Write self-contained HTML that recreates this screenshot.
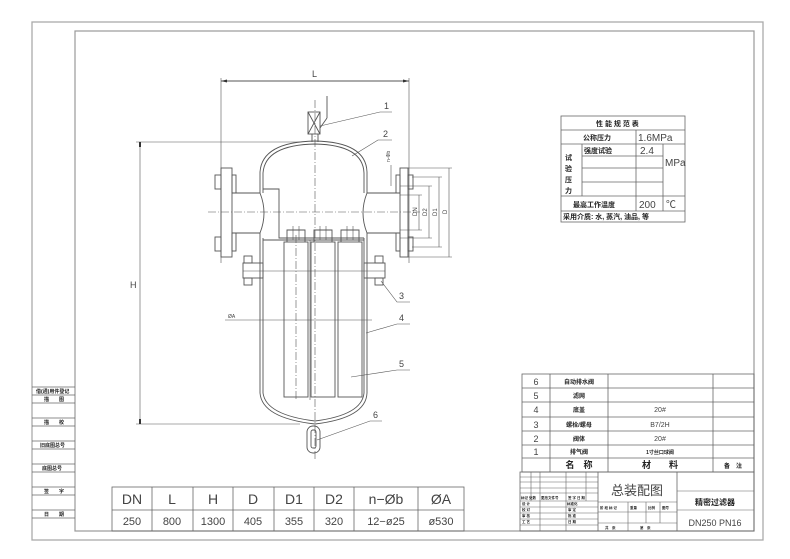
<!DOCTYPE html>
<html><head><meta charset="utf-8"><style>
html,body{margin:0;padding:0;background:#fff;}
svg{display:block;}
text{font-family:"Liberation Sans","Noto Sans CJK SC",sans-serif;fill:#444;}
.c{font-family:"Liberation Sans","Noto Sans CJK SC",sans-serif;font-weight:bold;fill:#222;}
</style></head><body>
<svg width="790" height="559" viewBox="0 0 790 559" xmlns="http://www.w3.org/2000/svg">
<g fill="none" stroke="#666" stroke-width="0.8">
<!-- borders -->
<rect x="32" y="22" width="731" height="518" stroke="#aaa" stroke-width="1.3"/>
<rect x="75" y="31" width="679" height="500" stroke="#999" stroke-width="1.2"/>
<!-- left strip -->
<line x1="32" y1="387" x2="75" y2="387"/>
<line x1="32" y1="395" x2="75" y2="395"/>
<line x1="32" y1="403" x2="75" y2="403"/>
<line x1="32" y1="418" x2="75" y2="418"/>
<line x1="32" y1="426" x2="75" y2="426"/>
<line x1="32" y1="441" x2="75" y2="441"/>
<line x1="32" y1="449" x2="75" y2="449"/>
<line x1="32" y1="464" x2="75" y2="464"/>
<line x1="32" y1="472" x2="75" y2="472"/>
<line x1="32" y1="487" x2="75" y2="487"/>
<line x1="32" y1="495" x2="75" y2="495"/>
<line x1="32" y1="510" x2="75" y2="510"/>
<line x1="32" y1="518" x2="75" y2="518"/>

<!-- dimension table -->
<rect x="112" y="487" width="352" height="44"/>
<line x1="112" y1="510" x2="464" y2="510"/>
<line x1="152" y1="487" x2="152" y2="531"/><line x1="193" y1="487" x2="193" y2="531"/>
<line x1="233" y1="487" x2="233" y2="531"/><line x1="274" y1="487" x2="274" y2="531"/>
<line x1="314" y1="487" x2="314" y2="531"/><line x1="354" y1="487" x2="354" y2="531"/>
<line x1="418" y1="487" x2="418" y2="531"/>

<!-- performance table -->
<rect x="561" y="116" width="124" height="106"/>
<line x1="561" y1="130" x2="685" y2="130"/>
<line x1="561" y1="144" x2="685" y2="144"/>
<line x1="582" y1="156" x2="663" y2="156"/>
<line x1="582" y1="168" x2="663" y2="168"/>
<line x1="582" y1="182" x2="663" y2="182"/>
<line x1="561" y1="196" x2="685" y2="196"/>
<line x1="561" y1="211" x2="685" y2="211"/>
<line x1="582" y1="144" x2="582" y2="196"/>
<line x1="636" y1="130" x2="636" y2="211"/>
<line x1="663" y1="144" x2="663" y2="211"/>

<!-- parts table -->
<rect x="522" y="374" width="232" height="98"/>
<line x1="522" y1="388" x2="754" y2="388"/><line x1="522" y1="402" x2="754" y2="402"/>
<line x1="522" y1="417" x2="754" y2="417"/><line x1="522" y1="431" x2="754" y2="431"/>
<line x1="522" y1="445" x2="754" y2="445"/><line x1="522" y1="458" x2="754" y2="458"/>
<line x1="550" y1="374" x2="550" y2="472"/><line x1="608" y1="374" x2="608" y2="472"/>
<line x1="713" y1="374" x2="713" y2="472"/>
<!-- title block -->
<rect x="520" y="472" width="234" height="59"/>
<line x1="598" y1="472" x2="598" y2="531"/><line x1="677" y1="472" x2="677" y2="531"/>
<g stroke-width="0.6">
<line x1="520" y1="477" x2="598" y2="477"/><line x1="520" y1="482" x2="598" y2="482"/>
<line x1="520" y1="488" x2="598" y2="488"/><line x1="520" y1="493" x2="598" y2="493"/>
<line x1="520" y1="501" x2="598" y2="501"/><line x1="520" y1="507" x2="598" y2="507"/>
<line x1="520" y1="513" x2="598" y2="513"/><line x1="520" y1="519" x2="598" y2="519"/>
<line x1="520" y1="525" x2="598" y2="525"/>
<line x1="531" y1="472" x2="531" y2="501"/><line x1="540" y1="472" x2="540" y2="531"/>
<line x1="566" y1="472" x2="566" y2="531"/><line x1="586" y1="472" x2="586" y2="501"/>
<line x1="598" y1="502" x2="677" y2="502"/><line x1="598" y1="512" x2="677" y2="512"/>
<line x1="598" y1="523" x2="677" y2="523"/>
<line x1="628" y1="502" x2="628" y2="531"/><line x1="646" y1="502" x2="646" y2="523"/>
<line x1="660" y1="502" x2="660" y2="523"/>
<line x1="677" y1="491" x2="754" y2="491"/><line x1="677" y1="510" x2="754" y2="510"/>
</g>
</g>

<!-- DRAWING -->
<g fill="none" stroke="#555" stroke-width="0.9">
<line x1="221" y1="81" x2="409" y2="81"/>
<line x1="221" y1="78" x2="221" y2="263" stroke-width="0.6"/>
<line x1="409" y1="78" x2="409" y2="263" stroke-width="0.6"/>
<line x1="315" y1="100" x2="315" y2="460" stroke-dasharray="8,2,1,2" stroke-width="0.6"/>
<line x1="208" y1="212" x2="420" y2="212" stroke-dasharray="8,2,1,2" stroke-width="0.6"/>
<line x1="296" y1="235" x2="296" y2="400" stroke-dasharray="8,2,1,2" stroke-width="0.6"/>
<rect x="308" y="112" width="12" height="22"/>
<line x1="308" y1="112" x2="320" y2="134"/><line x1="320" y1="112" x2="308" y2="134"/>
<line x1="312" y1="134" x2="312" y2="142"/><line x1="318" y1="134" x2="318" y2="142"/>
<line x1="327" y1="96" x2="327" y2="118"/><line x1="327" y1="118" x2="320" y2="128"/>
<path d="M260,193 L260,172 Q262,142 315,141 Q366,142 367,172 L367,193"/>
<path d="M263,193 L263,173 Q265,145 315,144 Q363,145 364,173 L364,193"/>
<path d="M232,193 L260,193 M232,233 L260,233 M367,193 L400,193 M367,233 L400,233"/>
<path d="M260,193 Q268,213 260,233 M367,193 Q359,213 367,233"/>
<rect x="221" y="168" width="11" height="89"/>
<rect x="400" y="168" width="8" height="89"/>
<rect x="232" y="175" width="4" height="18"/><rect x="232" y="233" width="4" height="18"/>
<rect x="396" y="175" width="4" height="18"/><rect x="396" y="233" width="4" height="18"/>
<rect x="215" y="175" width="6" height="14"/><rect x="215" y="237" width="6" height="14"/>
<rect x="408" y="175" width="5" height="14"/><rect x="408" y="237" width="5" height="14"/>
<path d="M263,189 L279,189 L279,238 L364,238"/>
<path d="M263,240 L364,240"/>
<line x1="260" y1="233" x2="260" y2="393"/><line x1="263" y1="238" x2="263" y2="393"/>
<line x1="367" y1="233" x2="367" y2="393"/><line x1="364" y1="238" x2="364" y2="393"/>
<path d="M260,393 Q262,418 315,424 Q366,418 367,393"/>
<path d="M263,393 Q266,415 315,421 Q362,415 364,393"/>
<rect x="243" y="263" width="20" height="15"/>
<rect x="364" y="263" width="21" height="15"/>
<line x1="243" y1="271" x2="385" y2="271" stroke-width="0.6"/>
<rect x="244" y="256" width="8" height="7"/><rect x="244" y="278" width="8" height="7"/>
<rect x="375" y="256" width="8" height="7"/><rect x="375" y="278" width="8" height="7"/>
<rect x="284" y="242" width="24" height="155"/>
<rect x="311" y="242" width="24" height="155"/>
<rect x="338" y="242" width="24" height="155"/>
<path d="M287,242 L287,230 L305,230 L305,242 M314,242 L314,230 L332,230 L332,242 M341,242 L341,230 L359,230 L359,242"/>
<path d="M293,226 L293,240 M299,226 L299,240 M320,226 L320,240 M326,226 L326,240 M347,226 L347,240 M353,226 L353,240" stroke-width="0.6"/>
<line x1="310" y1="240" x2="310" y2="400" stroke-width="0.6"/>
<rect x="307" y="426" width="13" height="27" rx="6"/>
<rect x="311" y="430" width="5" height="18" rx="2"/>
<line x1="140" y1="142" x2="140" y2="424" stroke-width="0.6"/>
<line x1="136" y1="142" x2="300" y2="142" stroke-width="0.6"/>
<line x1="136" y1="424" x2="300" y2="424" stroke-width="0.6"/>
<line x1="225" y1="320" x2="372" y2="320" stroke-width="0.6"/>
<g stroke-width="0.6">
<line x1="408" y1="168" x2="452" y2="168"/><line x1="408" y1="257" x2="452" y2="257"/>
<line x1="412" y1="177" x2="442" y2="177"/><line x1="412" y1="247" x2="442" y2="247"/>
<line x1="400" y1="186" x2="432" y2="186"/><line x1="400" y1="238" x2="432" y2="238"/>
<line x1="400" y1="195" x2="422" y2="195"/><line x1="400" y1="230" x2="422" y2="230"/>
<line x1="449" y1="168" x2="449" y2="257"/><line x1="439" y1="177" x2="439" y2="247"/>
<line x1="429" y1="186" x2="429" y2="238"/><line x1="419" y1="195" x2="419" y2="230"/>
<line x1="391" y1="165" x2="391" y2="186"/>
</g>
<g stroke-width="0.6">
<polyline points="320,126 380,112 392,112"/>
<polyline points="352,156 378,140 392,140"/>
<polyline points="381,281 397,302 410,302"/>
<polyline points="366,333 397,324 410,324"/>
<polyline points="351,377 397,370 410,370"/>
<polyline points="317,440 370,421 382,421"/>
</g>
</g>
<g fill="#333">
<polygon points="221,81 227,79.5 227,82.5"/><polygon points="409,81 403,79.5 403,82.5"/>
<rect x="139" y="419" width="2" height="5"/><rect x="139" y="142" width="2" height="5"/>
</g>

<g font-size="9">
<text x="312" y="77">L</text>
<text x="384" y="109">1</text>
<text x="383" y="137">2</text>
<text x="399" y="299">3</text>
<text x="399" y="321">4</text>
<text x="399" y="367">5</text>
<text x="373" y="418">6</text>
<text x="130" y="288">H</text>
<text x="228" y="318" font-size="5">ØA</text>
</g>
<g font-size="6">
<text transform="translate(417,216) rotate(-90)">DN</text>
<text transform="translate(427,216) rotate(-90)">D2</text>
<text transform="translate(437,216) rotate(-90)">D1</text>
<text transform="translate(447,214) rotate(-90)">D</text>
<text transform="translate(390,162) rotate(-90)" font-size="5">n-Φb</text>
</g>

<g font-size="5" class="c">
<text x="36" y="393" class="c">借(通)用件登记</text>
<text x="44" y="401" class="c">描　　图</text>
<text x="44" y="424" class="c">描　　校</text>
<text x="40" y="447" class="c">旧底图总号</text>
<text x="42" y="470" class="c">底图总号</text>
<text x="44" y="493" class="c">签　　字</text>
<text x="44" y="516" class="c">日　　期</text>
</g>

<g font-size="14" text-anchor="middle" fill="#666">
<text x="132" y="504">DN</text><text x="172" y="504">L</text><text x="213" y="504">H</text>
<text x="253" y="504">D</text><text x="294" y="504">D1</text><text x="334" y="504">D2</text>
<text x="386" y="504">n−Øb</text><text x="441" y="504">ØA</text>
</g>
<g font-size="11" text-anchor="middle">
<text x="132" y="525">250</text><text x="172" y="525">800</text><text x="213" y="525">1300</text>
<text x="253" y="525">405</text><text x="294" y="525">355</text><text x="334" y="525">320</text>
<text x="386" y="525">12−ø25</text><text x="441" y="525">ø530</text>
</g>

<g font-size="7" class="c">
<text x="596" y="126" class="c">性 能 规 范 表</text>
<text x="583" y="140" class="c">公称压力</text>
<text x="584" y="153" class="c">强度试验</text>
<text x="565" y="160" class="c">试</text><text x="565" y="171" class="c">验</text>
<text x="565" y="182" class="c">压</text><text x="565" y="193" class="c">力</text>
<text x="573" y="207" class="c">最高工作温度</text>
<text x="563" y="219" class="c">采用介质: 水, 蒸汽, 油品, 等</text>
</g>
<g font-size="10" fill="#666">
<text x="638" y="141">1.6MPa</text>
<text x="640" y="154">2.4</text>
<text x="665" y="166">MPa</text>
<text x="639" y="208">200</text>
<text x="666" y="208">℃</text>
</g>

<g font-size="9" text-anchor="middle" fill="#666">
<text x="536" y="385">6</text><text x="536" y="399">5</text><text x="536" y="413">4</text>
<text x="536" y="428">3</text><text x="536" y="442">2</text><text x="536" y="455">1</text>
</g>
<g font-size="6" text-anchor="middle" class="c">
<text x="579" y="384" class="c">自动排水阀</text>
<text x="579" y="398" class="c">滤网</text>
<text x="579" y="412" class="c">底盖</text>
<text x="579" y="427" class="c">螺栓/螺母</text>
<text x="579" y="441" class="c">阀体</text>
<text x="579" y="454" class="c">排气阀</text>
<text x="660" y="454" class="c" font-size="5">1寸丝口球阀</text>
<text x="579" y="468" class="c" font-size="9">名　称</text>
<text x="660" y="468" class="c" font-size="9">材　　料</text>
<text x="733" y="468" class="c">备　注</text>
</g>
<g font-size="7" text-anchor="middle" fill="#666">
<text x="660" y="412">20#</text><text x="660" y="427">B7/2H</text><text x="660" y="441">20#</text>
</g>
<text x="637" y="495" font-size="13" text-anchor="middle" fill="#777">总装配图</text>
<text x="715" y="505" font-size="8" text-anchor="middle" class="c">精密过滤器</text>
<text x="715" y="526" font-size="9" text-anchor="middle" fill="#666">DN250 PN16</text>
<g font-size="3.5" class="c">
<text x="521" y="499" class="c">标记 处数</text><text x="541" y="499" class="c">更改文件号</text><text x="568" y="499" class="c">签 字 日 期</text>
<text x="522" y="505" class="c">设 计</text><text x="567" y="505" class="c">标准化</text>
<text x="522" y="511" class="c">校 对</text><text x="568" y="511" class="c">审 定</text>
<text x="522" y="517" class="c">审 核</text><text x="568" y="517" class="c">批 准</text>
<text x="522" y="523" class="c">工 艺</text><text x="568" y="523" class="c">日 期</text>
<text x="600" y="509" class="c">阶 段 标 记</text><text x="630" y="509" class="c">重量</text><text x="648" y="509" class="c">比例</text><text x="662" y="509" class="c">图号</text>
<text x="605" y="529" class="c">共　张</text><text x="640" y="529" class="c">第　张</text>
</g>
</svg>
</body></html>
